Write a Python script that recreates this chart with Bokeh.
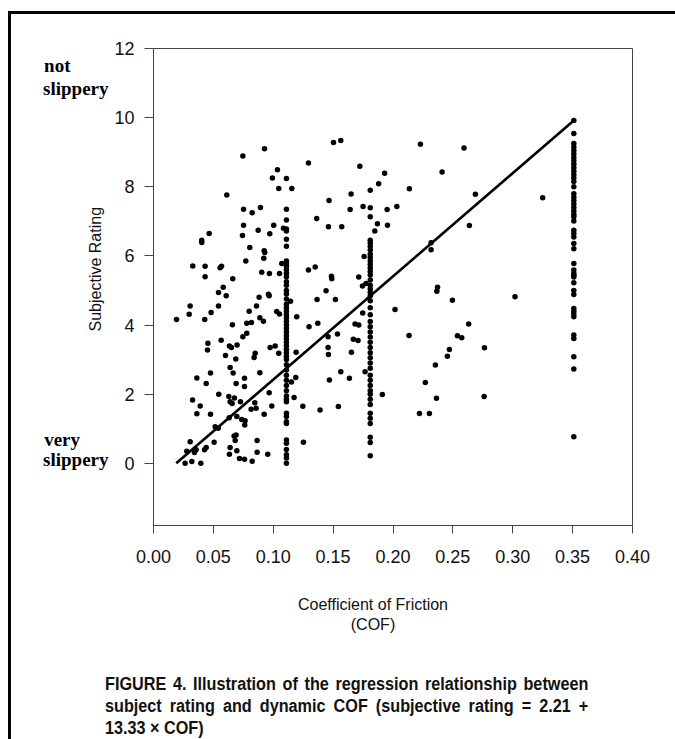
import math
from bokeh.plotting import figure
from bokeh.models import LinearAxis, FixedTicker, ColumnDataSource, Div
from bokeh.layouts import column
from bokeh.embed import file_html
from bokeh.resources import INLINE

# ---------------- data ----------------
x_ticks = [0.0, 0.05, 0.10, 0.15, 0.20, 0.25, 0.30, 0.35, 0.40]
x_tick_labels = ["0.00", "0.05", "0.10", "0.15", "0.20", "0.25", "0.30", "0.35", "0.40"]
y_ticks = [0, 2, 4, 6, 8, 10, 12]
y_tick_labels = ["0", "2", "4", "6", "8", "10", "12"]

scatter_cof = [
    0.0927, 0.0746, 0.1294, 0.1035, 0.0993, 0.1046, 0.1155, 0.0612, 0.1466, 0.0752,
    0.0824, 0.0893, 0.1363, 0.0752, 0.1004, 0.0874, 0.1085, 0.1461, 0.0465, 0.0403,
    0.0403, 0.0743, 0.0971, 0.0804, 0.0924, 0.0929, 0.0921, 0.0771, 0.1503, 0.1564,
    0.2229, 0.2593, 0.1723, 0.1930, 0.2410, 0.1880, 0.1650, 0.2137, 0.1750, 0.1642,
    0.1951, 0.2032, 0.2688, 0.3250, 0.1870, 0.1954, 0.1572, 0.1848, 0.2638, 0.2318,
    0.2318, 0.1759,
    0.0328, 0.0431, 0.0556, 0.0568, 0.1071, 0.0431, 0.0662, 0.0904, 0.0968, 0.1052,
    0.1294, 0.1350, 0.1486, 0.1489, 0.1714, 0.1745, 0.0543, 0.0582, 0.0607, 0.0543,
    0.0306, 0.0298, 0.0481, 0.0799, 0.0860, 0.0882, 0.0960, 0.0966, 0.1029, 0.1052,
    0.1144, 0.1196, 0.1299, 0.1366, 0.1372, 0.1441, 0.1519, 0.1683, 0.1714, 0.1747,
    0.1775, 0.0192, 0.0428, 0.0659, 0.0779, 0.0779, 0.0746, 0.0818, 0.0888, 0.0918,
    0.0565, 0.0454, 0.0451, 0.0601, 0.0634, 0.0651, 0.0698, 0.0687, 0.0849, 0.0840,
    0.0974, 0.1016, 0.1046, 0.1191, 0.1458, 0.1458, 0.1461, 0.1536, 0.1669, 0.1653,
    0.1767, 0.1911, 0.0476, 0.0362, 0.0440, 0.0545, 0.0640, 0.0665, 0.0690, 0.0760,
    0.0760, 0.0629, 0.0676, 0.0726, 0.0640, 0.0657, 0.0632, 0.0696, 0.0737, 0.0765,
    0.0762, 0.0815, 0.0846, 0.0857, 0.0888, 0.0924, 0.0966, 0.0988, 0.1152, 0.1188,
    0.1174, 0.1247, 0.1391, 0.1469, 0.1544, 0.1564, 0.1636, 0.1708, 0.2017, 0.2134,
    0.0326, 0.0390, 0.0362, 0.0476, 0.0515, 0.0540, 0.0506, 0.0440, 0.0426, 0.0356,
    0.0306, 0.0278, 0.0342, 0.0264, 0.0320, 0.0395, 0.0640, 0.0634, 0.0696, 0.0718,
    0.0760, 0.0824, 0.0865, 0.0954, 0.0865, 0.0682, 0.0673, 0.0690, 0.1252,
    0.2372, 0.2366, 0.2496, 0.3019, 0.2538, 0.2574, 0.2632, 0.2764, 0.2471, 0.2454,
    0.2354, 0.2270, 0.2363, 0.2761, 0.2221, 0.2304,
]
scatter_rating = [
    9.10, 8.89, 8.69, 8.49, 8.25, 7.95, 7.95, 7.76, 7.60, 7.35,
    7.25, 7.40, 7.08, 6.89, 6.89, 6.74, 6.80, 6.84, 6.65, 6.45,
    6.39, 6.59, 6.64, 6.24, 6.15, 6.10, 5.93, 5.85, 9.28, 9.34,
    9.23, 9.12, 8.59, 8.39, 8.43, 8.09, 7.79, 7.94, 7.43, 7.34,
    7.34, 7.43, 7.78, 7.68, 6.93, 6.89, 6.84, 6.72, 6.88, 6.38,
    6.18, 5.98,
    5.71, 5.70, 5.66, 5.70, 5.78, 5.40, 5.34, 5.53, 5.49, 5.49,
    5.59, 5.68, 5.41, 5.34, 5.39, 5.13, 4.94, 5.09, 4.85, 4.55,
    4.55, 4.31, 4.36, 4.40, 4.55, 4.80, 4.89, 4.85, 4.39, 4.32,
    4.69, 4.24, 3.95, 4.74, 4.05, 4.99, 4.74, 4.03, 4.00, 4.35,
    5.20, 4.16, 4.16, 4.01, 4.05, 3.76, 3.66, 4.07, 4.21, 4.11,
    3.56, 3.47, 3.28, 3.12, 3.39, 3.35, 3.42, 3.02, 3.18, 3.06,
    3.35, 3.39, 3.18, 3.21, 3.66, 3.35, 3.15, 3.74, 3.59, 3.21,
    2.65, 1.99, 2.61, 2.47, 2.31, 2.00, 2.77, 2.61, 2.31, 2.46,
    2.22, 1.93, 1.89, 1.78, 1.78, 1.73, 1.32, 1.35, 1.27, 1.23,
    1.11, 1.56, 1.75, 1.59, 2.62, 1.42, 2.04, 1.66, 2.35, 2.48,
    1.90, 1.65, 1.54, 2.41, 1.64, 2.65, 2.46, 3.55, 4.45, 3.70,
    1.83, 1.66, 1.43, 1.42, 1.06, 1.01, 0.61, 0.46, 0.39, 0.39,
    0.62, 0.35, 0.31, 0.00, 0.05, 0.00, 0.46, 0.26, 0.36, 0.14,
    0.12, 0.06, 0.32, 0.26, 0.66, 0.66, 0.79, 0.82, 0.61,
    5.09, 4.98, 4.72, 4.82, 3.69, 3.63, 4.03, 3.34, 3.29, 3.10,
    2.84, 2.34, 1.88, 1.93, 1.44, 1.44,
]

# vertical columns of ratings at three test-surface COF values
column_cof = [0.111, 0.181, 0.351]
column_011_rating = [
    8.24, 7.35, 7.04, 6.78, 6.72, 6.48, 6.28, 5.85, 5.78, 5.70, 5.60, 5.50, 5.40,
    5.25, 5.15, 5.00, 4.90, 4.75, 4.60, 4.50, 4.40, 4.30, 4.20, 4.10, 4.00, 3.90,
    3.80, 3.70, 3.60, 3.50, 3.40, 3.30, 3.20, 3.10, 3.00, 2.85, 2.70, 2.55, 2.40,
    2.25, 2.10, 1.95, 1.85, 1.78, 1.45, 1.35, 1.20, 1.15, 0.67, 0.58, 0.40, 0.25,
    0.15, 0.00,
]
column_018_rating = [
    7.90, 7.39, 7.13, 6.45, 6.37, 6.27, 6.17, 6.05, 5.95, 5.85, 5.75, 5.65, 5.55,
    5.45, 5.30, 5.15, 5.05, 4.95, 4.85, 4.70, 4.50, 4.30, 4.10, 3.95, 3.80, 3.65,
    3.50, 3.35, 3.20, 3.05, 2.90, 2.75, 2.55, 2.40, 2.25, 2.10, 2.00, 1.85, 1.70,
    1.45, 1.30, 1.15, 0.75, 0.60, 0.22,
]
column_035_rating = [
    9.92, 9.54, 9.25, 9.15, 9.05, 8.95, 8.85, 8.75, 8.65, 8.55, 8.45, 8.35, 8.25,
    8.15, 8.00, 7.80, 7.70, 7.60, 7.50, 7.40, 7.30, 7.20, 7.13, 7.01, 6.74, 6.65,
    6.55, 6.36, 6.21, 5.78, 5.59, 5.49, 5.44, 5.39, 5.22, 5.00, 4.88, 4.48, 4.40,
    4.32, 4.24, 3.71, 3.61, 3.08, 2.73, 0.77,
]

# drawn regression line end points
line_cof = [0.019, 0.351]
line_rating = [0.0, 9.92]

scale_words = ["not", "slippery", "very", "slippery"]
x_title_lines = ["Coefficient of Friction", "(COF)"]
y_title = "Subjective Rating"
caption_lines = [
    "FIGURE 4. Illustration of the regression relationship between",
    "subject rating and dynamic COF (subjective rating = 2.21 +",
    "13.33 \u00d7 COF)",
]

# ---------------- layout ----------------
W, FH = 664, 659
L, R, T, B = 142, 621, 34, 511
X0, X1, Y0, Y1 = 0.0, 0.40, -1.8, 12.0
NB = "\u00a0"


def yd(py):
    return Y0 + (B - py) / (B - T) * (Y1 - Y0)


p = figure(width=W, height=FH, x_range=(X0, X1), y_range=(Y0, Y1),
           output_backend="svg", toolbar_location=None, title=None,
           min_border_left=L, min_border_right=W - R,
           min_border_top=T, min_border_bottom=FH - B)
p.background_fill_color = "white"
p.border_fill_color = "white"
p.outline_line_color = "#444444"
p.outline_line_width = 1
p.xgrid.visible = False
p.ygrid.visible = False

p.xaxis.ticker = FixedTicker(ticks=x_ticks, minor_ticks=[])
p.yaxis.ticker = FixedTicker(ticks=y_ticks, minor_ticks=[])
p.xaxis.major_label_overrides = {t: s for t, s in zip(x_ticks, x_tick_labels)}
p.yaxis.major_label_overrides = {t: s for t, s in zip(y_ticks, y_tick_labels)}
for ax in (p.xaxis[0], p.yaxis[0]):
    ax.major_label_text_font = "Liberation Sans"
    ax.major_label_text_font_size = "18px"
    ax.major_label_text_color = "#111111"
    ax.axis_line_color = "#444444"
    ax.axis_line_width = 1
    ax.major_tick_line_color = "#444444"
    ax.major_tick_in = 0
    ax.minor_tick_line_color = None
    ax.axis_label_text_font = "Liberation Sans"
    ax.axis_label_text_font_size = "16px"
    ax.axis_label_text_font_style = "normal"
    ax.axis_label_text_color = "#111111"
p.xaxis.major_tick_out = 8
p.xaxis.major_label_standoff = 16
p.yaxis.major_tick_out = 9
p.yaxis.major_label_standoff = 10
# nbsp padding shifts the titles off the frame centre, as in the original
p.yaxis.axis_label = NB * 8 + y_title
p.yaxis.axis_label_standoff = 7
p.xaxis.axis_label = "\n".join(s + NB * 9 for s in x_title_lines)
p.xaxis.axis_label_standoff = 30

# verbal scale anchors beside the rating axis (left aligned by nbsp padding)
pad = {"not": 8, "very": 6, "slippery": 0}
scale_pos = [yd(51), yd(74), yd(425), yd(445)]
scale_axis = LinearAxis(ticker=FixedTicker(ticks=scale_pos, minor_ticks=[]),
                        major_label_overrides={v: w + NB * pad[w]
                                               for v, w in zip(scale_pos, scale_words)})
scale_axis.axis_line_color = None
scale_axis.major_tick_line_color = None
scale_axis.minor_tick_line_color = None
scale_axis.major_tick_out = 0
scale_axis.major_tick_in = 0
scale_axis.major_label_standoff = -24
scale_axis.major_label_text_font = "Liberation Serif"
scale_axis.major_label_text_font_style = "bold"
scale_axis.major_label_text_font_size = "19px"
scale_axis.major_label_text_color = "black"
p.add_layout(scale_axis, "left")

# points
all_x = list(scatter_cof)
all_y = list(scatter_rating)
for c, ratings in zip(column_cof, [column_011_rating, column_018_rating, column_035_rating]):
    all_x += [c] * len(ratings)
    all_y += ratings
src = ColumnDataSource(data=dict(x=all_x, y=all_y))
p.scatter("x", "y", source=src, size=5.5, color="black", line_width=0)

p.line(line_cof, line_rating, line_width=2.6, color="black")

font = ("font-family:'Liberation Sans',Arial,sans-serif;font-weight:bold;"
        "font-size:18px;line-height:22px;color:#111111;")
rows = []
for i, line in enumerate(caption_lines):
    if i < len(caption_lines) - 1:
        just = "text-align:justify;text-align-last:justify;white-space:nowrap;"
    else:
        just = "text-align:left;white-space:nowrap;"
    rows.append(f'<div style="{just}">{line}</div>')
caption = Div(text=(f'<div style="margin-left:94px;width:537px;transform:scaleX(0.9);'
                    f'transform-origin:0 0;{font}">' + "".join(rows) + "</div>"),
              width=W, height=66, margin=0)

layout = column(p, caption, spacing=0, margin=(11, 0, 0, 8),
                styles={"border-top": "3px solid black", "border-left": "3px solid black"})

open("out.html", "w").write(file_html(layout, INLINE))
